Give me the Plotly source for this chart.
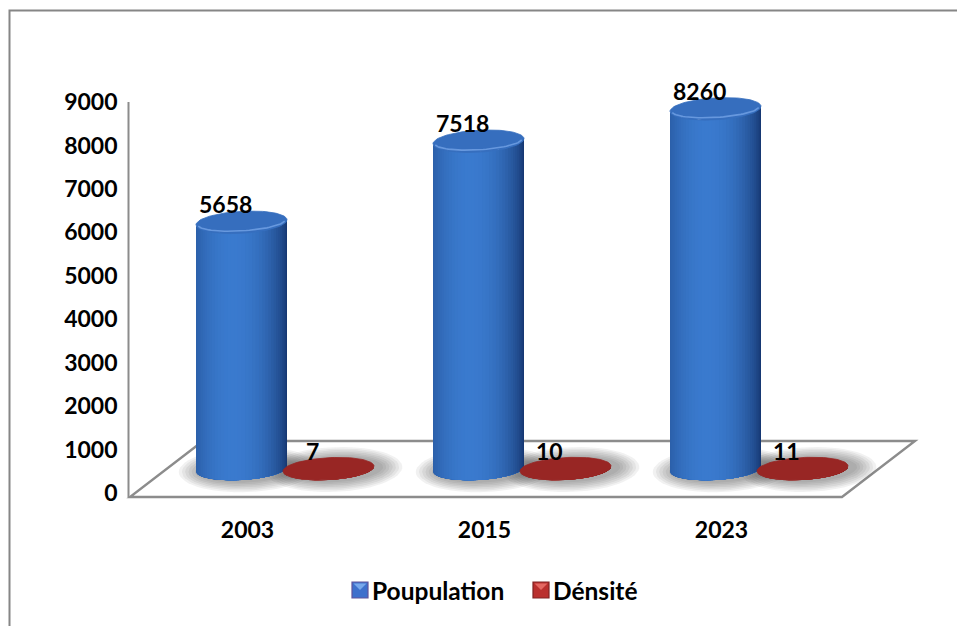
import numpy as np
import plotly.graph_objects as go

# ---- data -------------------------------------------------------------
years = ["2003", "2015", "2023"]
population = [5658, 7518, 8260]
density = [7, 10, 11]
y_ticks = [0, 1000, 2000, 3000, 4000, 5000, 6000, 7000, 8000, 9000]
series_names = ["Poupulation", "Dénsité"]

# ---- canvas / projection ----------------------------------------------
W, H = 957, 626
FONT = "Lato"

# front value axis (labels): value -> pixel row
AX_ZERO_PX, AX_TOP_PX, AX_MAX = 493.0, 102.0, 9000.0
K1 = (AX_ZERO_PX - AX_TOP_PX) / AX_MAX
# back plane where the cylinders stand
BAR_ZERO_PX, K2 = 469.0, 0.0436

y1_range = [-(H - AX_ZERO_PX) / K1, AX_ZERO_PX / K1]
y2_range = [-(H - BAR_ZERO_PX) / K2, BAR_ZERO_PX / K2]

X0, STEP, RED_OFF = 241.5, 237.0, 87.0
RX, RY_PX, TILT_PX = 45.5, 11.0, 2.5
RY, TILT = RY_PX / K2, TILT_PX / K2


def px(x):
    return x / W


def py(y):
    return 1 - y / H


def mix(c0, c1, f):
    return "rgb(%d,%d,%d)" % tuple(round(a + (b - a) * f) for a, b in zip(c0, c1))


def ellipse(cx, yc, a, b, tilt, t):
    x = cx - a * np.cos(t)
    y = yc - b * np.sin(t) - tilt * np.cos(t)
    return x, y


traces = []


def shadow(cx, scale=1.0):
    t = np.linspace(0, 2 * np.pi, 60)
    for k in range(7):
        a = RX * scale + 4 + 3.2 * k
        b = RY * scale + (2 + 1.6 * k) / K2
        x, y = ellipse(cx + 6, -0.5 / K2, a, b, TILT, t)
        traces.append(go.Scatter(x=x, y=y, yaxis="y2", mode="lines", fill="toself",
                                 fillcolor="rgba(60,60,60,0.07)", line=dict(width=0),
                                 hoverinfo="skip", showlegend=False))


def cylinder(cx, value, dark, light, top_col, rim_col, n=40):
    # each band runs from its own left edge to the right rim, so the next
    # band paints over it and no seams are left between them
    edges = np.linspace(0, np.pi, n + 1)
    for i in range(n):
        t = np.linspace(edges[i], np.pi, max(3, 2 * (n - i) + 1))
        xb, yb = ellipse(cx, 0, RX, RY, TILT, t)
        xt, yt = ellipse(cx, value, RX, RY, TILT, t[::-1])
        u = -np.cos(0.5 * (edges[i] + edges[i + 1]))
        f = max(0.0, 1 - ((u + 0.18) / 1.18) ** 2) ** 0.75
        col = mix(dark, light, f)
        traces.append(go.Scatter(x=np.r_[xb, xt, xb[0]], y=np.r_[yb, yt, yb[0]],
                                 yaxis="y2", mode="lines", fill="toself", fillcolor=col,
                                 line=dict(width=0),
                                 hoverinfo="skip", showlegend=False))
    t = np.linspace(0, 2 * np.pi, 90)
    x, y = ellipse(cx, value, RX, RY, TILT, t)
    traces.append(go.Scatter(x=x, y=y, yaxis="y2", mode="lines", fill="toself",
                             fillcolor=top_col, line=dict(width=0.8, color=top_col),
                             hoverinfo="skip", showlegend=False))
    if rim_col:
        tf = np.linspace(0.15, np.pi - 0.15, 40)
        x, y = ellipse(cx, value, RX * 0.96, RY * 0.78, TILT, tf)
        traces.append(go.Scatter(x=x, y=y, yaxis="y2", mode="lines",
                                 line=dict(width=1.6, color=rim_col),
                                 hoverinfo="skip", showlegend=False))


BLUE_DARK, BLUE_LIGHT = (22, 55, 112), (58, 122, 206)
RED_DARK, RED_LIGHT = (110, 25, 25), (160, 42, 38)

centers_pop = [X0 + STEP * i for i in range(len(years))]
centers_den = [c + RED_OFF for c in centers_pop]

for cb, cr in zip(centers_pop, centers_den):
    shadow(cb)
    shadow(cr, 0.98)

for cb, v in zip(centers_pop, population):
    cylinder(cb, v, BLUE_DARK, BLUE_LIGHT, "rgb(54,110,190)", "rgba(112,160,228,0.85)")
for cr, v in zip(centers_den, density):
    cylinder(cr, v, RED_DARK, RED_LIGHT, "rgb(152,38,36)", None, n=10)

fig = go.Figure(traces)

label_font = dict(family=FONT, size=23, color="black", weight="bold")
legend_font = dict(family=FONT, size=24.5, color="black", weight="bold")

# value labels above each cylinder
for c, v in list(zip(centers_pop, population)) + list(zip(centers_den, density)):
    fig.add_annotation(x=c - 16, y=v, xref="x", yref="y2", yshift=18, text=str(v),
                       showarrow=False, font=label_font)

# floor, value axis line, outer frame
floor = [(130, 497), (842, 497), (915, 441), (203, 441)]
path = "M " + " L ".join("%.4f,%.4f" % (px(x), py(y)) for x, y in floor) + " Z"
fig.add_shape(type="path", path=path, xref="paper", yref="paper", layer="below",
              line=dict(color="rgb(140,140,140)", width=2.4), fillcolor="white")
fig.add_shape(type="line", xref="x", yref="y", x0=128.5, x1=128.5,
              y0=-(497 - AX_ZERO_PX) / K1, y1=AX_MAX,
              line=dict(color="rgb(140,140,140)", width=2))
fig.add_shape(type="rect", xref="paper", yref="paper", x0=px(9.5), y0=py(H + 5),
              x1=px(W + 5), y1=py(10.5), line=dict(color="rgb(134,134,134)", width=2),
              layer="below")

# legend
legend_items = [
    (series_names[0], 352, (62, 112, 204), (96, 84, 156), (120, 168, 235)),
    (series_names[1], 533, (186, 48, 46), (128, 36, 36), (228, 104, 98)),
]
LY0, LY1 = 582, 598
for name, lx, fillc, edgec, hic in legend_items:
    fig.add_shape(type="rect", xref="paper", yref="paper", x0=px(lx), x1=px(lx + 16),
                  y0=py(LY1), y1=py(LY0), fillcolor="rgb(%d,%d,%d)" % fillc,
                  line=dict(color="rgb(%d,%d,%d)" % edgec, width=1.2))
    tri = "M %.4f,%.4f L %.4f,%.4f L %.4f,%.4f Z" % (
        px(lx + 1.5), py(LY0 + 1.5), px(lx + 14.5), py(LY0 + 1.5), px(lx + 8), py(LY0 + 8))
    fig.add_shape(type="path", path=tri, xref="paper", yref="paper",
                  fillcolor="rgb(%d,%d,%d)" % hic, line=dict(width=0))
    fig.add_annotation(x=px(lx + 18), y=py(590), xref="paper", yref="paper",
                       xanchor="left", yanchor="middle", text=name, showarrow=False,
                       font=legend_font)

fig.update_layout(
    width=W, height=H,
    margin=dict(l=0, r=0, t=0, b=0, pad=0),
    paper_bgcolor="white", plot_bgcolor="white",
    showlegend=False,
    xaxis=dict(range=[0, W], domain=[0, 1], anchor="free", position=py(514),
               tickvals=[c + 6 for c in centers_pop], ticktext=years,
               showgrid=False, zeroline=False, showline=False, ticks="",
               tickfont=label_font, fixedrange=True),
    yaxis=dict(range=y1_range, domain=[0, 1], anchor="free", position=px(128.5),
               tickvals=y_ticks, showgrid=False, zeroline=False, showline=False,
               ticks="", ticklabelstandoff=11, tickfont=label_font, fixedrange=True),
    yaxis2=dict(range=y2_range, overlaying="y", visible=False, fixedrange=True),
)

fig.write_html("out.html")
